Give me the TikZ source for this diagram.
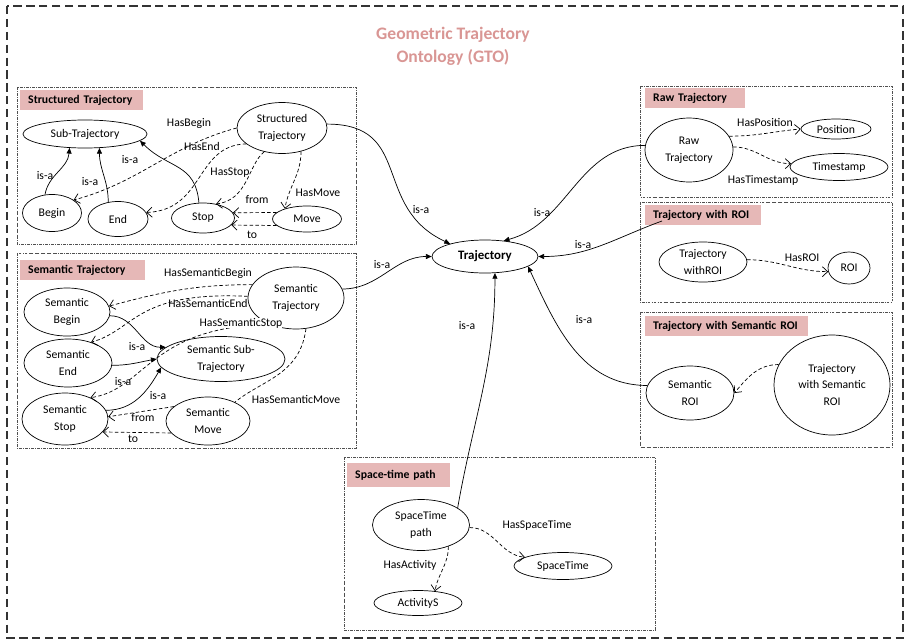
\documentclass[tikz,border=0pt]{standalone}
\usepackage{fontspec}
\setmainfont{Carlito}
\usetikzlibrary{arrows.meta, shapes.geometric}
\definecolor{tagpink}{HTML}{E6B8B7}
\definecolor{gtored}{HTML}{D99694}
\definecolor{frameln}{HTML}{505050}
\tikzset{
  cls/.style   ={draw, ellipse, inner sep=0pt, align=center, line width=0.6pt, font=\fontsize{10}{14.5}\selectfont},
  rootcls/.style={cls, font=\fontsize{11}{13}\selectfont\bfseries},
  isa/.style   ={-{Triangle[length=1.7mm,width=1.5mm]}, line width=0.6pt},                 % sub-class -> class
  dline/.style ={line width=0.6pt, dash pattern=on 3pt off 2pt},
  rel/.style   ={dline, -{Straight Barb[length=1.6mm,width=3mm]}},                           % object property
  lbl/.style   ={font=\fontsize{10}{12}\selectfont, inner sep=1pt},
  lblw/.style  ={lbl, fill=white, inner sep=0pt},
  grp/.style   ={draw=frameln, line width=0.5pt, dash pattern=on 2.5pt off 1pt on 0.6pt off 1pt},
  tag/.style   ={fill=tagpink, anchor=north west, inner xsep=2.4mm, inner ysep=0pt, minimum height=6mm, align=left, font=\fontsize{10}{12}\selectfont\bfseries},
}

\begin{document}
\begin{tikzpicture}[x=0.3mm, y=0.3mm]
  \useasboundingbox (0,0) rectangle (908,-642);
  \draw[line width=1.4pt, draw=black!80, dash pattern=on 7pt off 4pt] (7,-6) rectangle (903,-638);
  \node[font=\fontsize{15}{19.5}\selectfont\bfseries, text=gtored, align=center] (title) at (453,-46) {Geometric Trajectory\\Ontology (GTO)};

  % --- frames ---
  \draw[grp] (17,-87)   rectangle (356,-244);
  \draw[grp] (17,-253)  rectangle (356,-448);
  \draw[grp] (640,-86)  rectangle (892,-197);
  \draw[grp] (640,-202) rectangle (892,-302);
  \draw[grp] (640,-312) rectangle (892,-447);
  \draw[grp] (344,-457) rectangle (655,-630);
  \node[tag, text width=32.1mm] (tagst)  at (20,-90)   {Structured Trajectory};
  \node[tag, text width=32.7mm] (tagsem) at (20,-260)  {Semantic Trajectory};
  \node[tag, text width=25.2mm] (tagraw) at (645,-88)  {Raw Trajectory};
  \node[tag, text width=30mm]   (tagroi) at (645,-205) {Trajectory with ROI};
  \node[tag, text width=44.1mm] (tagsroi) at (645,-316) {Trajectory with Semantic ROI};
  \node[tag, text width=26.1mm, minimum height=7mm] (tagstp) at (347,-463) {Space-time path};

  % --- Trajectory ---
  \node[rootcls, minimum width=31.8mm, minimum height=9.9mm] (traj) at (485,-256.5) {Trajectory};

  % --- Structured Trajectory ---
  \node[cls, minimum width=37.2mm, minimum height=8.4mm]  (sub)   at (85,-134)  {Sub-Trajectory};
  \node[cls, minimum width=27mm,   minimum height=15.3mm] (strt)  at (282,-128) {Structured\\Trajectory};
  \node[cls, minimum width=17.7mm, minimum height=11.1mm] (begin) at (52,-213)  {Begin};
  \node[cls, minimum width=18mm,   minimum height=10.5mm] (end)   at (118,-219) {End};
  \node[cls, minimum width=18.9mm, minimum height=9mm]    (stop)  at (203,-218) {Stop};
  \node[cls, minimum width=20.7mm, minimum height=7.8mm]  (move)  at (307,-219) {Move};
  \draw[isa] (begin.111) to[out=80,in=-95] (sub.222) node[lbl] at (45,-176) {is-a};
  \draw[isa] (end.120) to[out=90,in=-90] (sub.316) node[lbl] at (90,-182) {is-a};
  \draw[isa] (stop.105) to[out=95,in=-45,looseness=1.2] (sub.-7) node[lbl] at (130,-160) {is-a};
  \draw[rel] (strt.180) to[out=195,in=15] (begin.31) node[lbl] at (189,-123) {HasBegin};
  \draw[rel] (strt.204) .. controls (195,-145) and (205,-210) .. (end.13) node[lbl] at (202,-146) {HasEnd};
  \draw[rel] (strt.233) .. controls (248,-165) and (248,-200) .. (stop.47) node[lbl] at (230,-173) {HasStop};
  \draw[rel] (strt.-51) to[out=-90,in=80] (move.155) node[lbl] at (318,-193) {HasMove};
  \draw[rel] (move.168) -- (stop.10) node[lbl] at (257,-200) {from};
  \draw[rel] (move.192) -- (stop.-14) node[lbl] at (252,-235) {to};
  \draw[isa] (strt.5) to[out=0,in=155,looseness=1.3] (traj.160) node[lbl] at (421,-210) {is-a};

  % --- Semantic Trajectory ---
  \node[cls, minimum width=25.8mm, minimum height=14.4mm] (sbegin) at (67,-312)  {Semantic\\Begin};
  \node[cls, minimum width=26.4mm, minimum height=14.4mm] (send)   at (68,-363)  {Semantic\\End};
  \node[cls, minimum width=25.8mm, minimum height=15.6mm] (sstop)  at (65,-419)  {Semantic\\Stop};
  \node[cls, minimum width=38.4mm, minimum height=13.5mm] (ssub)   at (221,-359) {Semantic Sub-\\Trajectory};
  \node[cls, minimum width=28.8mm, minimum height=18.6mm] (strj)   at (296,-298) {Semantic\\Trajectory};
  \node[cls, minimum width=25.2mm, minimum height=14.4mm] (smove)  at (208,-421) {Semantic\\Move};
  \draw[isa] (sbegin.-5) to[out=0,in=180] (ssub.168);
  \draw[isa] (send.-3) to[out=0,in=190] (ssub.180) node[lbl] at (137,-347) {is-a};
  \draw[isa] (sstop.12) to[out=0,in=240] (ssub.188) node[lbl] at (158,-396) {is-a};
  \node[lbl] (isasem) at (123,-382) {is-a};
  \draw[rel] (strj.163) to[out=180,in=15] (sbegin.8) node[lbl] at (208,-273) {HasSemanticBegin};
  \draw[rel] (strj.178) .. controls (135,-291) and (135,-330) .. (send.42) node[lbl] at (208,-303) {HasSemanticEnd};
  \draw[rel] (strj.226) .. controls (150,-326) and (145,-390) .. (sstop.40) node[lblw] at (241,-323) {HasSemanticStop};
  \draw[dline] (strj.-72) .. controls (300,-375) and (262,-380) .. (smove.35) node[lbl] at (296,-399) {HasSemanticMove};
  \draw[rel] (smove.157) -- (sstop.3) node[lblw] at (143,-418) {from};
  \draw[rel] (smove.198) -- (sstop.-19) node[lbl] at (133,-439) {to};
  \draw[isa] (strj.11) to[out=0,in=180] (traj.180) node[lbl] at (382,-265) {is-a};

  % --- Raw Trajectory ---
  \node[cls, minimum width=26.4mm, minimum height=19.2mm] (raw)    at (689,-150) {Raw\\Trajectory};
  \node[cls, minimum width=21mm,   minimum height=6mm]    (pos)    at (836,-129) {Position};
  \node[cls, minimum width=29.4mm, minimum height=8.1mm]  (tstamp) at (839,-167) {Timestamp};
  \draw[rel] (raw.19) to[out=0,in=185] (pos.180) node[lbl] at (765,-122) {HasPosition};
  \draw[rel] (raw.4) to[out=0,in=180] (tstamp.176) node[lbl] at (763,-180) {HasTimestamp};
  \draw[isa] (raw.174) to[out=180,in=15] (traj.40) node[lbl] at (542,-213) {is-a};

  % --- Trajectory with ROI ---
  \node[cls, minimum width=26.4mm, minimum height=12mm]  (twroi) at (703,-262) {Trajectory\\withROI};
  \node[cls, minimum width=12.6mm, minimum height=9.6mm] (roi)   at (849,-268) {ROI};
  \coordinate (roiin) at (662,-221);
  \draw[rel] (twroi.3) to[out=0,in=180] (roi.190) node[lbl] at (802,-258) {HasROI};
  \draw[isa] (roiin) to[out=200,in=0] (traj.0) node[lbl] at (583,-245) {is-a};

  % --- Trajectory with Semantic ROI ---
  \node[cls, minimum width=26.4mm, minimum height=16.2mm] (sroi)  at (690,-393) {Semantic\\ROI};
  \node[cls, minimum width=34.8mm, minimum height=30mm]   (tsroi) at (832,-385) {Trajectory\\with Semantic\\ROI};
  \draw[rel] (tsroi.159) to[out=180,in=50] (sroi.0);
  \draw[isa] (sroi.170) to[out=180,in=-65] (traj.-13) node[lbl] at (584,-320) {is-a};

  % --- Space-time path ---
  \node[cls, minimum width=29.1mm, minimum height=15.3mm] (stp) at (421,-525) {SpaceTime\\path};
  \node[cls, minimum width=29.4mm, minimum height=8.1mm]  (spt) at (563,-566) {SpaceTime};
  \node[cls, minimum width=26.4mm, minimum height=7.5mm]  (act) at (418,-603) {ActivityS};
  \draw[rel] (stp.-3) to[out=0,in=175] (spt.167) node[lbl] at (537,-525) {HasSpaceTime};
  \draw[rel] (stp.-38) to[out=-90,in=80] (act.35) node[lbl] at (410,-565) {HasActivity};
  \draw[isa] (stp.25) to[out=80,in=-90] (traj.-59) node[lbl] at (467,-326) {is-a};
\end{tikzpicture}
\end{document}
